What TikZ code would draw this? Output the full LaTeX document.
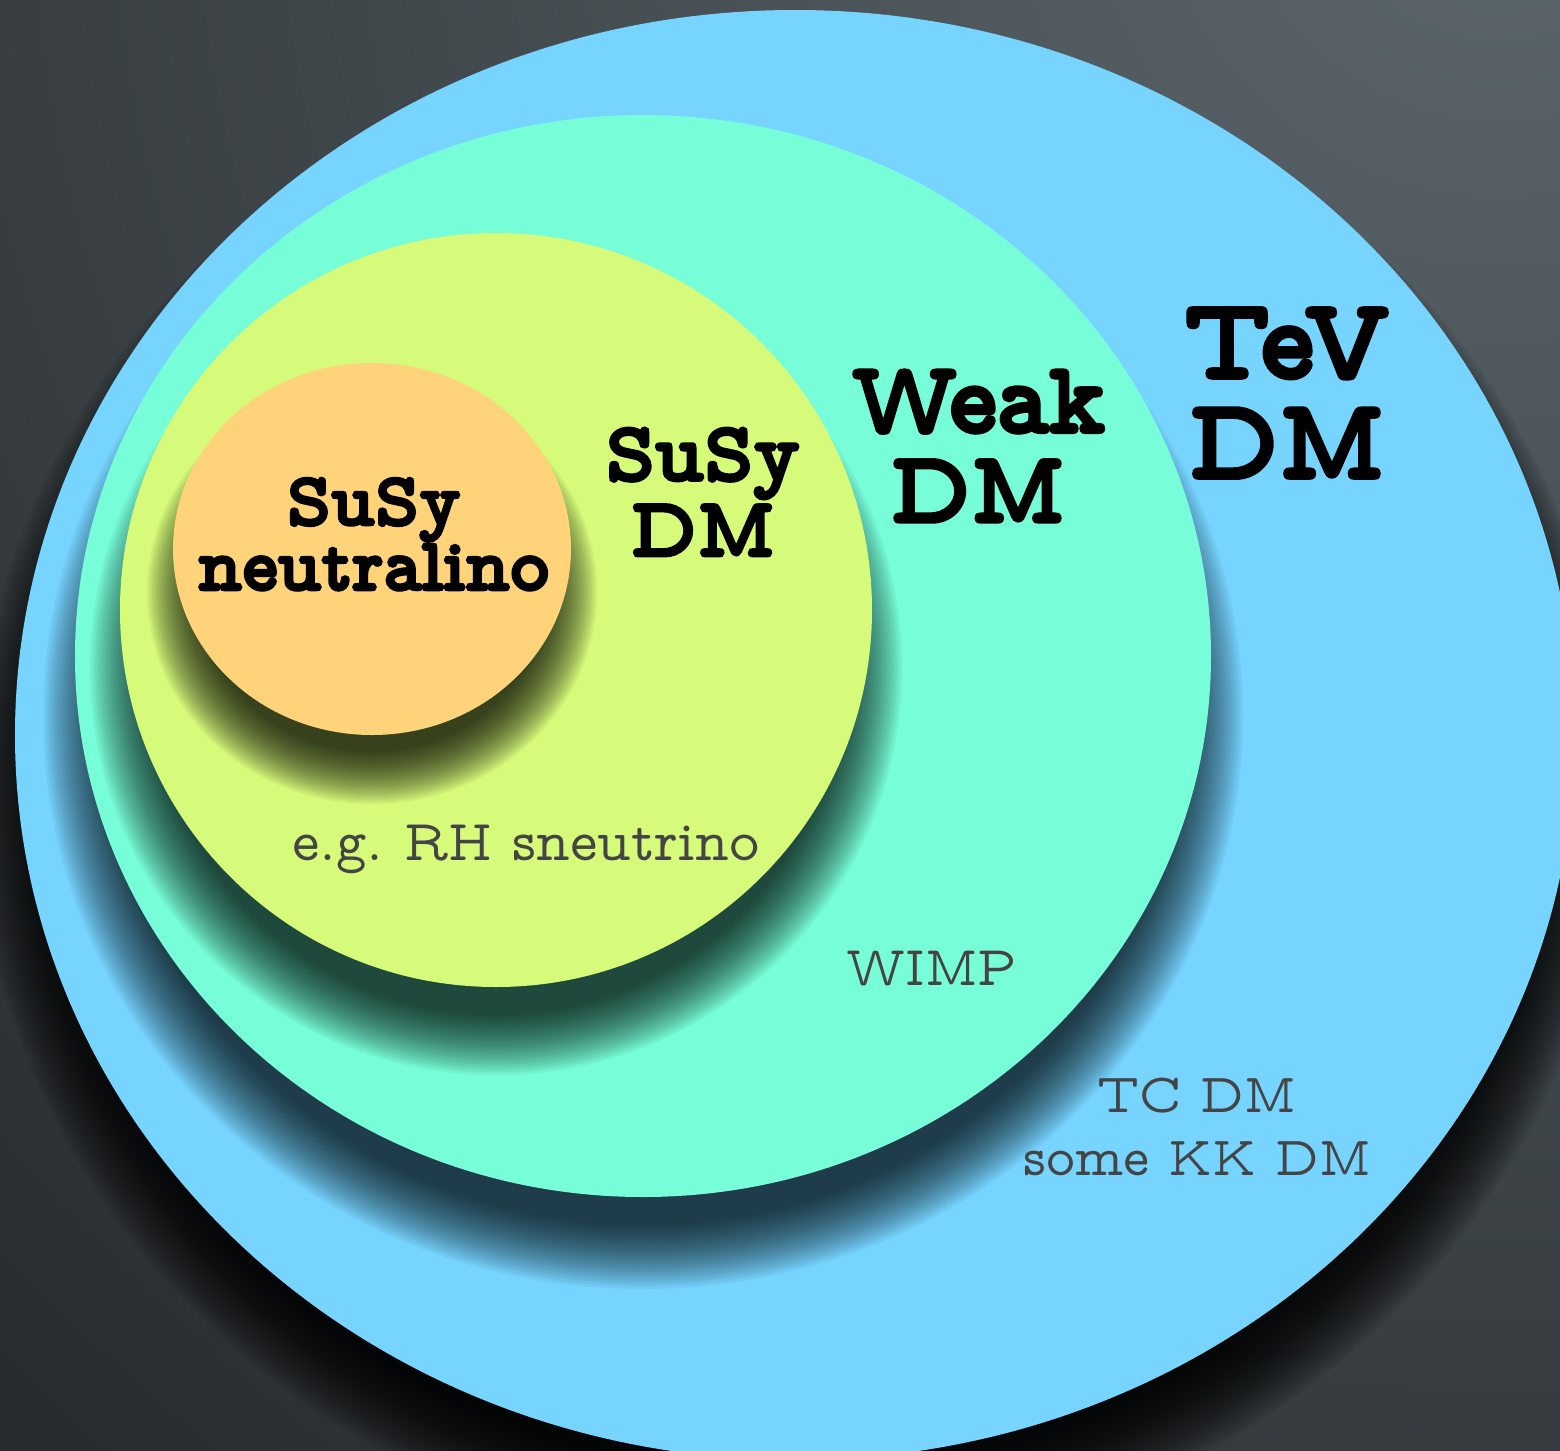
\documentclass[tikz,border=0pt]{standalone}
\usepackage{fontspec}
\newfontfamily\twb[FakeBold=3.4]{lmmonoproplt10-bold.otf}
\newfontfamily\twr{lmmonoprop10-regular.otf}
\definecolor{bgtop}{HTML}{5C676D}
\definecolor{bgbot}{HTML}{161718}
\definecolor{tevblue}{HTML}{77D4FF}
\definecolor{weakgreen}{HTML}{77FDD8}
\definecolor{susyyellow}{HTML}{D6FB7A}
\definecolor{neuorange}{HTML}{FFD37A}
\definecolor{smalltxt}{HTML}{444444}
\newcommand\softshadow[6]{%
  \foreach \k in {0,...,23}{%
    \pgfmathsetmacro\rxx{#3+#5*(1-2*\k/23)}%
    \pgfmathsetmacro\ryy{#4+#5*(1-2*\k/23)}%
    \fill[black,opacity=#6] (#1,#2) ellipse [x radius=\rxx, y radius=\ryy];
  }}
\tikzset{
  bigtxt/.style={anchor=base, inner sep=0pt, align=center, font=\twb, text=black},
  smalltext/.style={anchor=base, inner sep=0pt, align=center, font=\twr, text=smalltxt}
}
\begin{document}
\begin{tikzpicture}[x=0.02cm,y=-0.02cm]
\useasboundingbox (0,0) rectangle (1560,1451);
\clip (0,0) rectangle (1560,1451);
% background
\shade[inner color=bgtop, outer color=bgbot] (1500,-150) circle (2900);
% TeV blue
\softshadow{795}{790}{780}{725}{40}{0.065}
\fill[tevblue] (795,735) ellipse [x radius=780, y radius=725];
% Weak green
\begin{scope}
  \clip (795,735) ellipse [x radius=780, y radius=725];
  \softshadow{643}{716}{568}{541}{32}{0.046}
\end{scope}
\fill[weakgreen] (643,656) ellipse [x radius=568, y radius=541];
% SuSy yellow
\begin{scope}
  \clip (643,656) ellipse [x radius=568, y radius=541];
  \softshadow{496}{668}{376}{377}{30}{0.046}
\end{scope}
\fill[susyyellow] (496,610) ellipse [x radius=376, y radius=377];
% neutralino orange
\begin{scope}
  \clip (496,610) ellipse [x radius=376, y radius=377];
  \softshadow{372}{592}{199}{186}{26}{0.05}
\end{scope}
\fill[neuorange] (372,549) ellipse [x radius=199, y radius=186];
% texts
\node[bigtxt, font=\twb\fontsize{65}{57}\selectfont] (tev) at (1287,478) {TeV\\DM};
\node[bigtxt, font=\twb\fontsize{58}{51}\selectfont] (weak) at (978,522) {Weak\\DM};
\node[bigtxt, font=\twb\fontsize{48}{43}\selectfont] (susy) at (703,556) {SuSy\\DM};
\node[bigtxt, font=\twb\fontsize{43}{37}\selectfont] (neu) at (374,590) {SuSy\\neutralino};
\node[smalltext, font=\twr\fontsize{33}{33}\selectfont] (rh) at (526,860) {e.g.\ RH sneutrino};
\node[smalltext, font=\twr\fontsize{32}{32}\selectfont] (wimp) at (932,985) {WIMP};
\node[smalltext, font=\twr\fontsize{31.5}{35.3}\selectfont] (tc) at (1197,1175) {TC DM\\some KK DM};
\end{tikzpicture}
\end{document}
